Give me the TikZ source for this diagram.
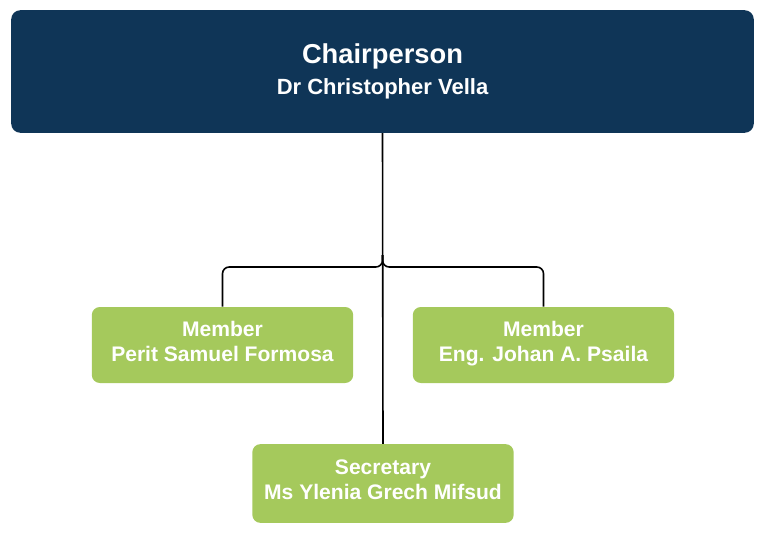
\documentclass[tikz,border=0pt]{standalone}
\usepackage{fontspec}
\setmainfont{Liberation Sans}
\usepackage{xcolor}
\usepackage{tikz}
\usetikzlibrary{positioning, calc}

\definecolor{navy}{HTML}{0F3557}
\definecolor{leaf}{HTML}{A5C95C}

\begin{document}
\begin{tikzpicture}[
    x=0.75pt, y=-0.75pt,
    headbox/.style={rectangle, fill=navy, rounded corners=7pt, minimum width=557pt, minimum height=92pt, align=center, text=white, font=\bfseries\fontsize{16.5}{23}\selectfont},
    box/.style={rectangle, fill=leaf, rounded corners=6pt, minimum width=196pt, minimum height=57pt, align=center, text=white, font=\bfseries\fontsize{15.8}{19}\selectfont, execute at end node=\strut},
    link/.style={draw=black, line width=1.2pt},
]
\useasboundingbox (0,0) rectangle (768,543);
\node[headbox] (chair) at (382.5,71.5) {{\fontsize{20.5}{23}\selectfont Chairperson}\\Dr Christopher Vella};
\node[box] (m1) at (222.5,345) {Member\\Perit Samuel Formosa};
\node[box] (m2) at (543.5,345) {Member\\Eng. Johan A. Psaila};
\node[box, minimum height=59pt] (sec) at (383,483.5) {Secretary\\Ms Ylenia Grech Mifsud};
\coordinate (fork) at (382.5,255);
\draw[link] (chair.south) -- (sec.north);
\draw[link, rounded corners=5pt] (fork) |- (m1.north |- 0,267) -- (m1.north);
\draw[link, rounded corners=5pt] (fork) |- (m2.north |- 0,267) -- (m2.north);
\end{tikzpicture}
\end{document}
